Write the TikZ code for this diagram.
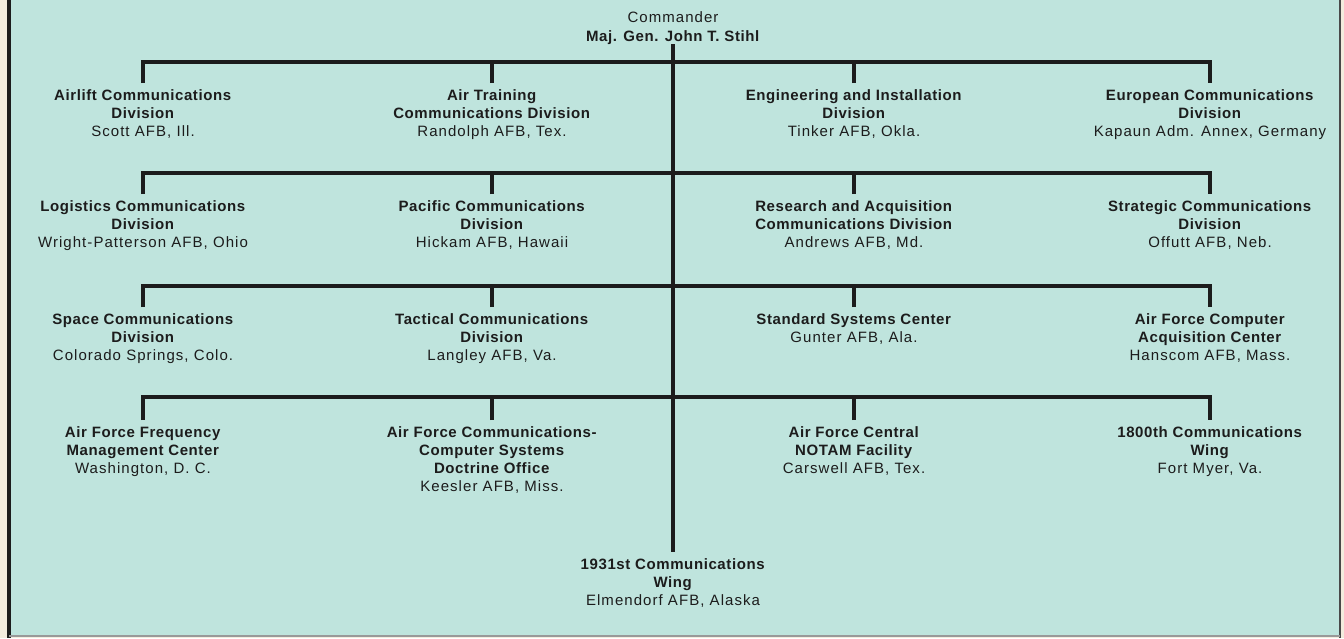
\documentclass[tikz,border=0pt]{standalone}
\usepackage{fontspec}
\setmainfont{Liberation Sans}[LetterSpace=7,BoldFeatures={LetterSpace=4}]
\usepackage{tikz}
\usetikzlibrary{positioning}
\usepackage{xcolor}
\definecolor{afcpaper}{RGB}{191,228,221}
\definecolor{afcink}{RGB}{28,28,28}
\definecolor{afcedge}{RGB}{243,236,222}
\tikzstyle{unit} = [anchor=north, align=center, inner xsep=0pt, inner ysep=6pt, text=afcink, font=\fontsize{15}{18.3}\selectfont]
\tikzstyle{link} = [line width=3.5pt, color=afcink]

\begin{document}
\begin{tikzpicture}[x=1pt, y=-1pt]
% sheet and frame
\fill[afcedge] (0,0) rectangle (1344,638);
\fill[afcpaper] (9,0) rectangle (1339,636);
\useasboundingbox (0,0) rectangle (1344,638);
\draw[line width=4pt, afcink] (9,0) -- (9,638);
\draw[line width=2pt, afcink!80] (1340,0) -- (1340,638);
\draw[line width=1.5pt, afcink!45] (9,636) -- (1340,636);

% command structure
\node (cmdr) [unit, anchor=center, inner ysep=0pt] at (673,28) {Commander\\\textbf{Maj. Gen. John T. Stihl}};
\coordinate (r1) at (673,62);
\coordinate (r2) at (673,173);
\coordinate (r3) at (673,286);
\coordinate (r4) at (673,397);

\node (airlift) [unit] at (143,83) {\textbf{Airlift Communications}\\\textbf{Division}\\Scott AFB, Ill.};
\node (training) [unit] at (492,83) {\textbf{Air Training}\\\textbf{Communications Division}\\Randolph AFB, Tex.};
\node (engineering) [unit] at (854,83) {\textbf{Engineering and Installation}\\\textbf{Division}\\Tinker AFB, Okla.};
\node (european) [unit] at (1210,83) {\textbf{European Communications}\\\textbf{Division}\\Kapaun Adm. Annex, Germany};

\node (logistics) [unit] at (143,194) {\textbf{Logistics Communications}\\\textbf{Division}\\Wright-Patterson AFB, Ohio};
\node (pacific) [unit] at (492,194) {\textbf{Pacific Communications}\\\textbf{Division}\\Hickam AFB, Hawaii};
\node (research) [unit] at (854,194) {\textbf{Research and Acquisition}\\\textbf{Communications Division}\\Andrews AFB, Md.};
\node (strategic) [unit] at (1210,194) {\textbf{Strategic Communications}\\\textbf{Division}\\Offutt AFB, Neb.};

\node (space) [unit] at (143,307) {\textbf{Space Communications}\\\textbf{Division}\\Colorado Springs, Colo.};
\node (tactical) [unit] at (492,307) {\textbf{Tactical Communications}\\\textbf{Division}\\Langley AFB, Va.};
\node (standard) [unit] at (854,307) {\textbf{Standard Systems Center}\\Gunter AFB, Ala.};
\node (computer) [unit] at (1210,307) {\textbf{Air Force Computer}\\\textbf{Acquisition Center}\\Hanscom AFB, Mass.};

\node (frequency) [unit] at (143,420) {\textbf{Air Force Frequency}\\\textbf{Management Center}\\Washington, D. C.};
\node (doctrine) [unit] at (492,420) {\textbf{Air Force Communications-}\\\textbf{Computer Systems}\\\textbf{Doctrine Office}\\Keesler AFB, Miss.};
\node (notam) [unit] at (854,420) {\textbf{Air Force Central}\\\textbf{NOTAM Facility}\\Carswell AFB, Tex.};
\node (wing1800) [unit] at (1210,420) {\textbf{1800th Communications}\\\textbf{Wing}\\Fort Myer, Va.};

\node (wing1931) [unit] at (673,552) {\textbf{1931st Communications}\\\textbf{Wing}\\Elmendorf AFB, Alaska};

\draw[link] (cmdr.south) -- (wing1931.north);
\draw[link] (airlift.north) |- (r1) -| (european.north);
\draw[link] (logistics.north) |- (r2) -| (strategic.north);
\draw[link] (space.north) |- (r3) -| (computer.north);
\draw[link] (frequency.north) |- (r4) -| (wing1800.north);
\draw[link] (training.north) -- (training.north |- r1);
\draw[link] (engineering.north) -- (engineering.north |- r1);
\draw[link] (pacific.north) -- (pacific.north |- r2);
\draw[link] (research.north) -- (research.north |- r2);
\draw[link] (tactical.north) -- (tactical.north |- r3);
\draw[link] (standard.north) -- (standard.north |- r3);
\draw[link] (doctrine.north) -- (doctrine.north |- r4);
\draw[link] (notam.north) -- (notam.north |- r4);
\end{tikzpicture}
\end{document}
